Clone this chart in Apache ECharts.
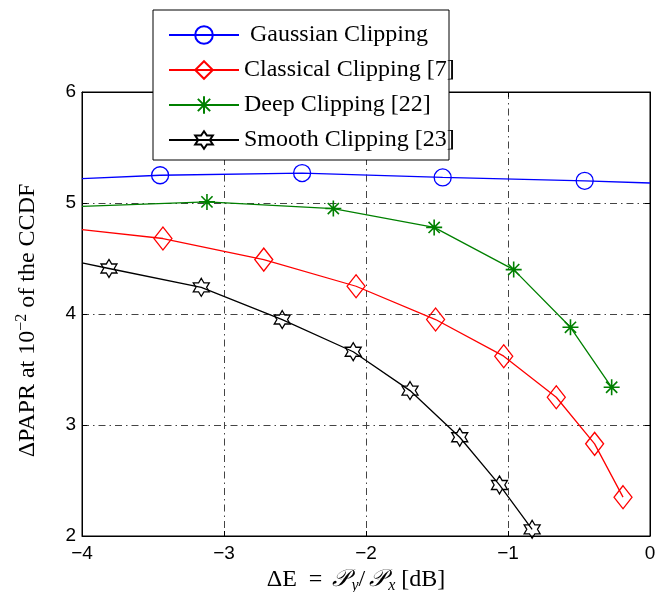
<!DOCTYPE html>
<html>
<head>
<meta charset="utf-8">
<script src="https://cdn.jsdelivr.net/npm/echarts@6/dist/echarts.min.js"></script>
<style>
  html, body { margin: 0; padding: 0; background: #fff; }
  #chart { width: 665px; height: 592px; }
</style>
</head>
<body>
<div id="chart"></div>
<script>
// series values (x in dB, y = delta PAPR)
const seriesNames = ['Gaussian Clipping', 'Classical Clipping [7]', 'Deep Clipping [22]', 'Smooth Clipping [23]']

const gaussX = [-4, -3.45, -2.45, -1.46, -0.46, 0]
const gaussY = [5.22, 5.25, 5.27, 5.23, 5.20, 5.18]
const gaussMark = [0, 1, 1, 1, 1, 0]

const classicX = [-4, -3.43, -2.72, -2.07, -1.51, -1.03, -0.66, -0.39, -0.19]
const classicY = [4.76, 4.68, 4.49, 4.25, 3.95, 3.62, 3.25, 2.83, 2.35]
const classicMark = [0, 1, 1, 1, 1, 1, 1, 1, 1]

const deepX = [-4, -3.12, -2.23, -1.52, -0.96, -0.56, -0.27]
const deepY = [4.97, 5.01, 4.95, 4.78, 4.40, 3.88, 3.34]
const deepMark = [0, 1, 1, 1, 1, 1, 1]

const smoothX = [-4, -3.81, -3.16, -2.59, -2.09, -1.69, -1.34, -1.06, -0.83]
const smoothY = [4.46, 4.41, 4.24, 3.95, 3.66, 3.31, 2.89, 2.46, 2.06]
const smoothMark = [0, 1, 1, 1, 1, 1, 1, 1, 1]

const xTicks = [-4, -3, -2, -1, 0]
const yTicks = [2, 3, 4, 5, 6]

const asterisk = 'path://M0,-1L0,1M-1,0L1,0M-0.7,-0.7L0.7,0.7M-0.7,0.7L0.7,-0.7'
const hexagram = 'path://M0,-1L0.289,-0.5L0.866,-0.5L0.577,0L0.866,0.5L0.289,0.5L0,1L-0.289,0.5L-0.866,0.5L-0.577,0L-0.866,-0.5L-0.289,-0.5Z'

function points (xs, ys, marks) {
  return xs.map((x, i) => {
    let item = { value: [x, ys[i]] }
    if (!marks[i]) item.symbol = 'none'
    return item
  })
}

function makeSeries (name, color, symbol, size, data, bw) {
  return {
    name: name,
    type: 'line',
    data: data,
    symbol: symbol,
    symbolSize: size,
    lineStyle: { color: color, width: 1.3 },
    itemStyle: { color: 'transparent', borderColor: color, borderWidth: bw || 1.3 },
    emphasis: { disabled: true },
    z: 2
  }
}

const serif = 'Liberation Serif'
const sans = 'Liberation Sans'
const minus = v => String(v).replace('-', '\u2212')
const gridLine = { show: true, lineStyle: { color: '#444', width: 1, type: [7, 4, 1.5, 4] } }

let myChart = echarts.init(document.getElementById('chart'))
myChart.setOption({
  animation: false,
  grid: {
    left: 82, right: 15, top: 92, bottom: 56,
    containLabel: false,
    outerBoundsMode: 'none',
    show: true, borderColor: '#000', borderWidth: 1
  },
  legend: {
    orient: 'vertical',
    left: 163,
    top: 18,
    itemWidth: 70,
    itemHeight: 22,
    itemGap: 11,
    z: 5,
    data: seriesNames,
    formatter: name => name === seriesNames[0] ? ' ' + name : name,
    textStyle: { fontFamily: serif, fontSize: 24, color: '#000' }
  },
  graphic: [{
    type: 'rect',
    z: 4,
    shape: { x: 153, y: 10, width: 296, height: 150 },
    style: { fill: '#fff', stroke: '#000', lineWidth: 1 }
  }],
  xAxis: [{
    type: 'value',
    min: -4,
    max: 0,
    interval: 1,
    name: '{n|\u0394E }{n| = }{p|\uD835\uDCAB}{b|y}{n|/}{p|\uD835\uDCAB}{b|x}{n| [dB]}',
    nameLocation: 'middle',
    nameGap: 30,
    nameTextStyle: {
      padding: [0, 20, 0, 0],
      rich: {
        n: { fontFamily: serif, fontSize: 24, color: '#000', lineHeight: 28 },
        p: { fontFamily: serif, fontSize: 24, color: '#000', lineHeight: 28, fontStyle: 'italic', padding: [0, 2, 0, 4] },
        b: { fontFamily: serif, fontSize: 16, color: '#000', lineHeight: 14, verticalAlign: 'bottom', fontStyle: 'italic' }
      }
    },
    axisLine: { show: true, onZero: false, lineStyle: { color: '#000', width: 1 } },
    axisTick: { show: true, inside: true, length: 5, lineStyle: { color: '#000' } },
    axisLabel: { fontFamily: sans, fontSize: 19, color: '#000', margin: 8, formatter: minus },
    splitLine: gridLine
  }, {
    type: 'value',
    position: 'top',
    min: -4,
    max: 0,
    interval: 1,
    axisLine: { show: true, lineStyle: { color: '#000', width: 1 } },
    axisTick: { show: true, inside: true, length: 5, lineStyle: { color: '#000' } },
    axisLabel: { show: false },
    splitLine: { show: false }
  }],
  yAxis: [{
    type: 'value',
    min: 2,
    max: 6,
    interval: 1,
    name: '{n|\u0394PAPR at 10}{s|\u22122}{n| of the CCDF}',
    nameLocation: 'middle',
    nameGap: 40,
    nameTextStyle: {
      padding: [0, 13, 0, 0],
      rich: {
        n: { fontFamily: serif, fontSize: 24, color: '#000', lineHeight: 28 },
        s: { fontFamily: serif, fontSize: 16, color: '#000', lineHeight: 14, verticalAlign: 'top' }
      }
    },
    axisLine: { show: true, onZero: false, lineStyle: { color: '#000', width: 1 } },
    axisTick: { show: true, inside: true, length: 5, lineStyle: { color: '#000' } },
    axisLabel: { fontFamily: sans, fontSize: 19, color: '#000', margin: 6, formatter: minus },
    splitLine: gridLine
  }, {
    type: 'value',
    position: 'right',
    min: 2,
    max: 6,
    interval: 1,
    axisLine: { show: true, lineStyle: { color: '#000', width: 1 } },
    axisTick: { show: true, inside: true, length: 5, lineStyle: { color: '#000' } },
    axisLabel: { show: false },
    splitLine: { show: false }
  }],
  series: [
    makeSeries(seriesNames[0], '#0000ff', 'circle', 17, points(gaussX, gaussY, gaussMark)),
    makeSeries(seriesNames[1], '#ff0000', 'diamond', [18, 23], points(classicX, classicY, classicMark)),
    makeSeries(seriesNames[2], '#008000', asterisk, 16, points(deepX, deepY, deepMark), 1.6),
    makeSeries(seriesNames[3], '#000000', hexagram, [16, 18], points(smoothX, smoothY, smoothMark))
  ]
})
</script>
</body>
</html>
